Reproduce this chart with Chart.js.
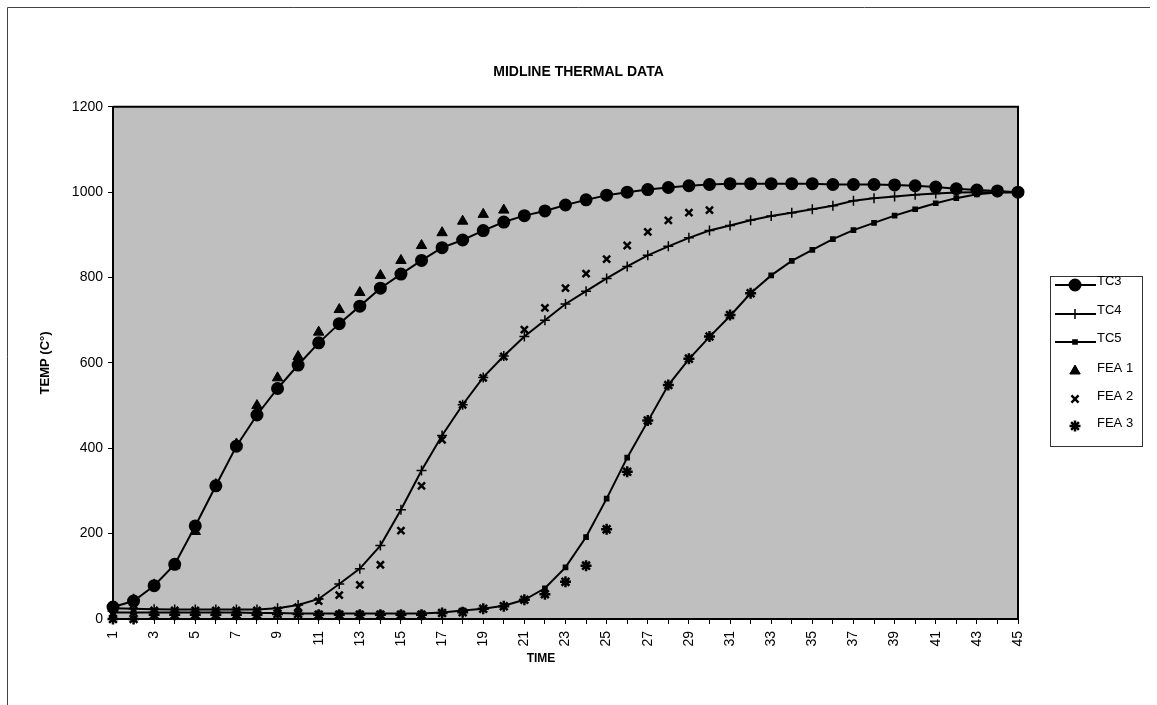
<!DOCTYPE html>
<html><head><meta charset="utf-8">
<script src="https://cdn.jsdelivr.net/npm/chart.js@4.4.1/dist/chart.umd.min.js"></script>
<style>html,body{margin:0;padding:0;background:#fff;}#wrap{width:1157px;height:705px;}</style>
</head><body><div id="wrap"><canvas id="c" width="1157" height="705"></canvas></div>
<script>
const timeLabels = [1,2,3,4,5,6,7,8,9,10,11,12,13,14,15,16,17,18,19,20,21,22,23,24,25,26,27,28,29,30,31,32,33,34,35,36,37,38,39,40,41,42,43,44,45];
const tc3 = [28,42,78,128,218,312,405,478,540,595,647,692,733,775,808,840,870,888,910,930,945,956,970,982,993,1000,1006,1011,1015,1018,1020,1020,1020,1020,1020,1018,1018,1018,1017,1015,1012,1008,1005,1003,1000];
const tc4 = [25,24,23,22,22,22,22,22,25,33,47,82,118,172,256,348,430,502,566,616,662,700,738,768,798,826,852,873,893,910,922,934,944,952,960,968,980,986,990,994,997,999,1000,1000,1000];
const tc5 = [15,15,15,15,15,15,15,14,14,13,13,13,13,13,13,13,15,20,24,31,45,72,121,192,282,378,463,548,609,661,710,763,805,839,865,890,911,928,945,960,974,986,995,999,1000];
const fea1 = [25,45,80,125,205,315,410,500,565,615,672,725,765,805,840,875,905,932,948,958];
const fea2 = [10,20,20,20,20,20,20,20,20,28,42,56,80,127,207,312,420,502,565,615,678,729,775,809,843,875,907,934,952,958];
const fea3 = [0,0,10,10,10,10,10,10,12,12,10,10,10,10,10,10,14,16,24,30,45,58,87,125,210,345,465,548,610,662,712,763];
const yTicks = [0,200,400,600,800,1000,1200];

const FONT = "'Liberation Sans', Arial, sans-serif";
const BLACK = '#000';

const seriesDefs = [
  {label:'TC3', data:tc3, line:true, pointStyle:'circle', radius:5.5, bw:2},
  {label:'TC4', data:tc4, line:true, pointStyle:'cross', radius:5, bw:1.5},
  {label:'TC5', data:tc5, line:true, pointStyle:'rect', radius:2.6, bw:2},
  {label:'FEA 1', data:fea1, line:false, pointStyle:'triangle', radius:6, bw:1},
  {label:'FEA 2', data:fea2, line:false, pointStyle:'crossRot', radius:5, bw:2.5},
  {label:'FEA 3', data:fea3, line:false, pointStyle:'star', radius:5.5, bw:2.5}
];

const datasets = seriesDefs.map(s => ({
  label: s.label,
  data: s.data,
  showLine: s.line,
  borderColor: BLACK,
  backgroundColor: BLACK,
  borderWidth: s.line ? 2 : 0,
  pointStyle: s.pointStyle,
  pointRadius: s.radius,
  pointBorderWidth: s.bw,
  pointBackgroundColor: BLACK,
  pointBorderColor: BLACK,
  tension: 0,
  clip: false,
  yAxisID: 'y'
}));

const bgPlugin = {
  id: 'bg',
  beforeDraw(chart) {
    const {ctx, chartArea:a} = chart;
    ctx.save();
    ctx.fillStyle = '#fff';
    ctx.fillRect(0, 0, chart.width, chart.height);
    ctx.fillStyle = '#bfbfbf';
    ctx.fillRect(a.left, a.top, a.right - a.left, a.bottom - a.top);
    ctx.restore();
  },
  afterDatasetsDraw(chart) {
    const {ctx, chartArea:a} = chart;
    ctx.save();
    ctx.strokeStyle = '#000';
    ctx.lineWidth = 2;
    ctx.beginPath();
    ctx.moveTo(a.left, a.top);
    ctx.lineTo(a.right, a.top);
    ctx.lineTo(a.right, a.bottom);
    ctx.stroke();
    // outer frame
    ctx.strokeStyle = '#444';
    ctx.lineWidth = 1;
    ctx.beginPath();
    ctx.moveTo(7.5, 705);
    ctx.lineTo(7.5, 7.5);
    ctx.lineTo(1150, 7.5);
    ctx.stroke();
    // x axis title
    ctx.fillStyle = '#000';
    ctx.font = "bold 12px " + FONT;
    ctx.textAlign = 'center';
    ctx.textBaseline = 'middle';
    ctx.fillText('TIME', 541, 659);
    // legend
    const lx = 1050, ly = 276, lw = 92, lh = 170;
    ctx.fillStyle = '#fff';
    ctx.fillRect(lx, ly, lw, lh);
    ctx.strokeStyle = '#333';
    ctx.lineWidth = 1;
    ctx.strokeRect(lx + 0.5, ly + 0.5, lw, lh);
    const rowsY = [285, 314, 342, 371, 399, 426];
    seriesDefs.forEach((s, i) => {
      const y = rowsY[i];
      ctx.strokeStyle = '#000';
      ctx.fillStyle = '#000';
      if (s.line) {
        ctx.lineWidth = 2;
        ctx.beginPath();
        ctx.moveTo(1055, y);
        ctx.lineTo(1096, y);
        ctx.stroke();
      }
      ctx.lineWidth = s.bw;
      Chart.helpers.drawPoint(ctx, {pointStyle: s.pointStyle, radius: s.radius, rotation: 0, borderWidth: s.bw}, 1075, y);
      ctx.fillStyle = '#000';
      ctx.font = "13px " + FONT;
      ctx.textAlign = 'left';
      ctx.textBaseline = 'middle';
      ctx.fillText(s.label, 1097, s.line ? y - 4 : y - 3);
    });
    ctx.restore();
  }
};

new Chart(document.getElementById('c'), {
  type: 'line',
  data: { labels: timeLabels, datasets },
  plugins: [bgPlugin],
  options: {
    responsive: false,
    animation: false,
    layout: { padding: { left: 0, right: 0, top: 0, bottom: 46 } },
    plugins: {
      legend: { display: false },
      tooltip: { enabled: false },
      title: {
        display: true,
        text: 'MIDLINE THERMAL DATA',
        color: '#000',
        font: { family: FONT, size: 14, weight: 'bold' },
        padding: { top: 64, bottom: 26 }
      }
    },
    scales: {
      x: {
        type: 'category',
        offset: false,
        grid: { display: true, drawOnChartArea: false, drawTicks: true, tickLength: 5, color: '#000', lineWidth: 1 },
        border: { display: true, color: '#000', width: 2 },
        ticks: {
          autoSkip: false, maxRotation: 90, minRotation: 90, padding: 7, color: '#000',
          font: { family: FONT, size: 14 },
          callback: function(v, i) { return i % 2 === 0 ? String(timeLabels[i]) : ''; }
        },
        afterFit(s) { s.height = 40; }
      },
      y: {
        min: 0, max: 1200,
        afterBuildTicks(s) { s.ticks = yTicks.map(v => ({value: v})); },
        grid: { display: true, drawOnChartArea: false, drawTicks: true, tickLength: 5, color: '#000' },
        border: { display: true, color: '#000', width: 2 },
        ticks: { color: '#000', padding: 5, font: { family: FONT, size: 14 }, callback: v => String(v) },
        title: { display: true, text: 'TEMP (C°)', color: '#000', font: { family: FONT, size: 13, weight: 'bold' }, padding: { top: 38, bottom: 0 } },
        afterFit(s) { s.width = 113; }
      },
      legendSpace: {
        type: 'linear',
        position: 'right',
        display: true,
        min: 0, max: 1,
        grid: { display: false },
        border: { display: false },
        ticks: { display: false },
        afterFit(s) { s.width = 139; }
      }
    }
  }
});
</script>
</body></html>
